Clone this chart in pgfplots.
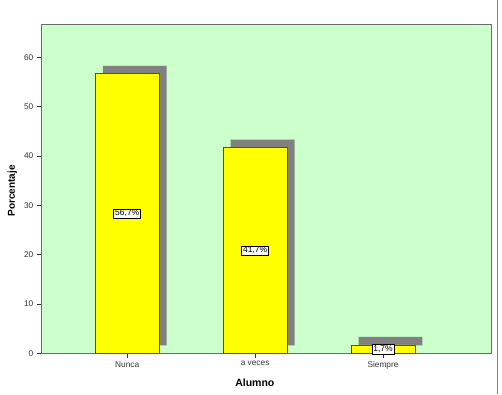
\documentclass[border=0pt]{standalone}
\usepackage{pgfplots}
\pgfplotsset{compat=1.18}
\usepackage{fontspec}
\setmainfont{Liberation Sans}
\definecolor{bggreen}{RGB}{204,255,204}
\definecolor{baryellow}{RGB}{255,255,0}
\definecolor{barborder}{RGB}{90,90,0}
\definecolor{shadowgray}{RGB}{128,128,128}
\begin{document}
\begin{tikzpicture}[x=1pt,y=1pt]
\useasboundingbox (0,0) rectangle (502,394);
\begin{axis}[
  at={(41.3pt,40.7pt)}, anchor=south west,
  scale only axis, width=450.4pt, height=329.3pt,
  xmin=-0.672, xmax=2.85, ymin=0, ymax=66.8,
  axis background/.style={fill=bggreen},
  axis line style={draw=gray!85!black, line width=0.8pt},
  xtick={0,1,2}, xticklabels={Nunca,a veces,Siempre},
  ytick={0,10,...,60},
  tick align=outside, tick pos=left,
  major tick length=4.5pt,
  tick style={black!80, line width=0.8pt},
  tick label style={font=\fontsize{8.3}{9}\selectfont, text=black!80},
  /pgf/number format/assume math mode=true,
  xlabel={Alumno}, ylabel={Porcentaje},
  xlabel style={at={(axis description cs:0.474,0)}, anchor=center, yshift=-29pt,
    font=\fontsize{10.5}{12}\selectfont\bfseries},
  ylabel style={at={(axis description cs:0,0.493)}, anchor=center, yshift=29pt,
    font=\fontsize{10}{12}\selectfont\bfseries},
  bar width=0.5,
]
\addplot[ybar, fill=shadowgray, draw=none, xshift=7.5pt, yshift=8pt]
  coordinates {(0,56.7) (1,41.7) (2,1.7)};
\addplot[ybar, fill=baryellow, draw=barborder, line width=0.8pt,
  point meta=explicit symbolic, nodes near coords,
  visualization depends on=y \as \rawy,
  every node near coord/.append style={anchor=center,
    shift={(axis direction cs:0,-\rawy/2)},
    fill=white, draw=black, line width=0.6pt, inner xsep=1.5pt, inner ysep=1.2pt,
    font=\fontsize{8.5}{9}\selectfont, text=black}]
  coordinates {(0,56.7) [56,7\%] (1,41.7) [41,7\%] (2,1.7) [1,7\%]};
\end{axis}
\draw[gray, line width=0.8pt] (497,0) -- (497,394);
\end{tikzpicture}
\end{document}
